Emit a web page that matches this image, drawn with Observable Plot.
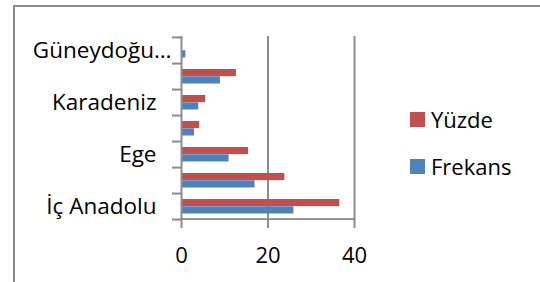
<!DOCTYPE html>
<html>
<head>
<meta charset="utf-8">
<script src="https://cdn.jsdelivr.net/npm/d3@7"></script>
<script src="https://cdn.jsdelivr.net/npm/@observablehq/plot@0.6"></script>
<style>
  html, body { margin: 0; padding: 0; background: #fff; }
  body { width: 540px; height: 282px; position: relative; overflow: hidden; font-family: "Open Sans", sans-serif; }
  #frame { position: absolute; left: 13px; top: 5px; width: 700px; height: 400px; border: 2px solid #8c8c8c; box-sizing: border-box; }
  #chart { position: absolute; left: 0; top: 0; }
  .leg { position: absolute; left: 410px; display: flex; align-items: center; font-size: 22px; color: #000; line-height: 1; }
  .leg span.sw { width: 15px; height: 15px; display: inline-block; margin-right: 6px; }
</style>
</head>
<body>
<div id="frame"></div>
<div id="chart"></div>
<div id="legend"></div>
<script>
// Categories, top to bottom as drawn
const categories = ["Güneydoğu Anadolu", "Doğu Anadolu", "Karadeniz", "Akdeniz", "Ege", "Marmara", "İç Anadolu"];
// Tick labels shown (Excel skips every other one)
const tickLabels = ["Güneydoğu…", "", "Karadeniz", "", "Ege", "", "İç Anadolu"];
// Series values
const frekans = [1, 9, 4, 3, 11, 17, 26];
const yuzde = [0, 12.7, 5.6, 4.2, 15.5, 23.9, 36.6];
const xTicks = [0, 20, 40];
const seriesNames = ["Yüzde", "Frekans"];
const seriesColors = ["#C0504D", "#4F81BD"];

const W = 540, H = 282;
const mT = 36, mB = 63, mL = 181, mR = 186;
const bw = (H - mT - mB) / categories.length;
const grid = "#8c8c8c";
const font = "Open Sans";

const rows = categories.map((c, i) => ({cat: c, label: tickLabels[i], frekans: frekans[i], yuzde: yuzde[i]}));
const labelOf = new Map(categories.map((c, i) => [c, tickLabels[i]]));

const chart = Plot.plot({
  width: W, height: H,
  marginTop: mT, marginBottom: mB, marginLeft: mL, marginRight: mR,
  style: {fontFamily: font, fontSize: "22px", color: "#000", background: "transparent"},
  x: {domain: [0, 40], label: null},
  y: {domain: categories, padding: 0, label: null},
  marks: [
    Plot.ruleX(xTicks.filter(d => d > 0), {stroke: grid, strokeWidth: 2, strokeOpacity: 1}),
    Plot.axisX({ticks: xTicks, tickSize: 9, tickPadding: 19, stroke: grid, strokeWidth: 2, strokeOpacity: 1, fontSize: 22, fill: "#000", label: null, tickFormat: d => String(d)}),
    Plot.barX(rows, {x: "yuzde", y: "cat", fill: seriesColors[0], insetTop: 6, insetBottom: bw - 13.3}),
    Plot.barX(rows, {x: "frekans", y: "cat", fill: seriesColors[1], insetTop: 13.3, insetBottom: 5.5}),
    Plot.ruleX([0], {stroke: grid, strokeWidth: 2, strokeOpacity: 1}),
    Plot.rect([categories[categories.length - 1]], {x1: 0, x2: 40, y: d => d, fill: grid, insetTop: bw - 1, insetBottom: -1}),
    Plot.axisY({ticks: categories, tickSize: 9, dy: bw / 2, stroke: grid, strokeWidth: 2, strokeOpacity: 1, tickFormat: () => "", label: null}),
    Plot.axisY({ticks: [categories[0]], tickSize: 9, dy: -bw / 2, stroke: grid, strokeWidth: 2, strokeOpacity: 1, tickFormat: () => "", label: null}),
    Plot.axisY({ticks: categories.slice(1), tickSize: 0, tickPadding: 25, fontSize: 22.5, fill: "#000", tickFormat: d => labelOf.get(d), label: null}),
    Plot.axisY({ticks: [categories[0]], tickSize: 0, tickPadding: 10, fontSize: 22.5, fill: "#000", tickFormat: d => labelOf.get(d), label: null})
  ]
});
document.getElementById("chart").appendChild(chart);

const legend = document.getElementById("legend");
const legendTops = [108, 155];
seriesNames.forEach((name, i) => {
  const el = document.createElement("div");
  el.className = "leg";
  el.style.top = legendTops[i] + "px";
  el.innerHTML = `<span class="sw" style="background:${seriesColors[i]}"></span><span>${name}</span>`;
  legend.appendChild(el);
});
</script>
</body>
</html>
